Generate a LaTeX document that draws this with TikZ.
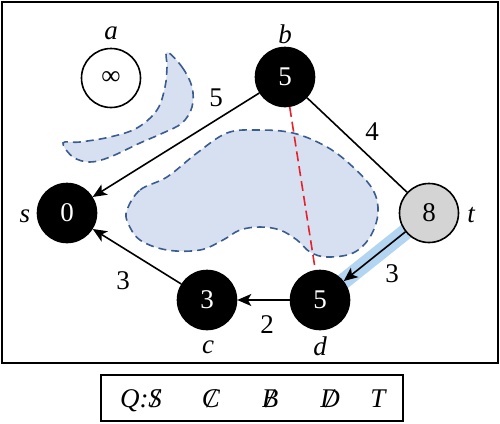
\documentclass[tikz,border=0pt]{standalone}
\usepackage{fontspec}
\setmainfont{Liberation Serif}
\usetikzlibrary{arrows.meta,backgrounds}
\definecolor{blobfill}{HTML}{D7E0F1}
\definecolor{blobline}{HTML}{3B5C91}
\definecolor{bandblue}{HTML}{B3D5F2}
\definecolor{reddash}{HTML}{E8202A}
\definecolor{tgray}{HTML}{D4D4D4}
\newcommand{\strikeit}[1]{\ooalign{\itshape #1\cr\hidewidth\itshape /\hidewidth\cr}}
\begin{document}
\begin{tikzpicture}[x=1pt,y=-1pt,font=\fontsize{27}{31}\selectfont,
  vtx/.style={circle,minimum size=59pt,inner sep=0pt,line width=1.6pt,draw=black},
  blk/.style={vtx,fill=black,text=white},
  lbl/.style={inner sep=0pt},
  nm/.style={inner sep=0pt,font=\fontsize{27}{31}\selectfont\itshape},
  con/.style={line width=1.6pt},
  arr/.style={con,-{Stealth[length=14pt,width=12pt,inset=3.5pt]}},
  blob/.style={fill=blobfill,draw=blobline,line width=1.6pt,dash pattern=on 8pt off 5pt},
  band/.style={line width=16pt,draw=bandblue},
  cut/.style={draw=reddash,line width=1.6pt,dash pattern=on 10pt off 5pt}]
\useasboundingbox (0,0) rectangle (500,423);
\draw[line width=2pt] (1.5,1.5) rectangle (498,363);
\draw[line width=1.6pt] (101,375) rectangle (403,421);

\node[vtx,fill=white] (a) at (111,78) {\fontsize{27}{30}\selectfont ∞};
\node[blk] (b) at (285,77) {5};
\node[blk] (s) at (67,213) {0};
\node[blk] (c) at (207,300) {3};
\node[blk] (d) at (320,300) {5};
\node[vtx,fill=tgray] (t) at (429,213) {8};

\node[nm] (la) at (111,33) {a};
\node[nm] (lb) at (285,34) {b};
\node[nm] (ls) at (25,216) {s};
\node[nm] (lt) at (471,215) {t};
\node[nm] (lc) at (208,347) {c};
\node[nm] (ld) at (320,346) {d};

\begin{pgfonlayer}{background}
\draw[blob] plot[smooth cycle,tension=0.6] coordinates {(167,52) (182,67) (192,87) (192,107) (182,123) (163,133) (140,143) (110,157) (90,162) (73,157) (63,143) (80,142) (110,137) (137,128) (157,110) (165,87) (167,67)};
\draw[blob] plot[smooth cycle,tension=0.6] coordinates {(127,210) (140,190) (167,177) (197,153) (227,133) (257,130) (293,133) (327,147) (353,167) (373,190) (378,213) (370,237) (353,253) (327,257) (310,252) (297,240) (280,230) (260,227) (240,230) (223,240) (200,250) (167,250) (140,240) (128,223)};
\draw[band] (t.center) -- (d.center);
\end{pgfonlayer}

\draw[cut] (b) -- (d);
\draw[arr] (b) -- (s);
\draw[con] (b) -- (t);
\draw[arr] (t) -- (d);
\draw[arr] (d) -- (c);
\draw[arr] (c) -- (s);

\node[lbl] (w1) at (216,98) {5};
\node[lbl] (w2) at (372,132) {4};
\node[lbl] (w3) at (392,274) {3};
\node[lbl] (w4) at (267,325) {2};
\node[lbl] (w5) at (123,281) {3};

\node[lbl,anchor=base] (q1) at (141,407) {\itshape Q:\strikeit{S}};
\node[lbl,anchor=base] (q2) at (211,407) {\strikeit{C}};
\node[lbl,anchor=base] (q3) at (270,407) {\strikeit{B}};
\node[lbl,anchor=base] (q4) at (330,407) {\strikeit{D}};
\node[lbl,anchor=base] (q5) at (378,407) {\itshape T};
\end{tikzpicture}
\end{document}
